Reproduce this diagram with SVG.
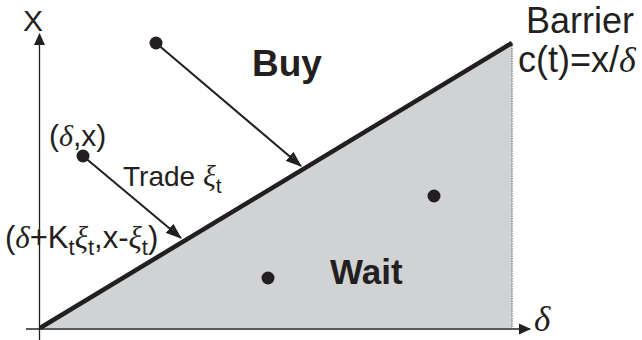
<svg xmlns="http://www.w3.org/2000/svg" width="642" height="340" viewBox="0 0 642 340">
<style>
text{font-family:"Liberation Sans",Arial,sans-serif;fill:#231f20}
.g{font-family:"Liberation Serif","Times New Roman",serif;font-style:italic}
.b{font-weight:bold}
.arr{stroke:#231f20;stroke-width:2;fill:none}
</style>
<defs>
<marker id="ah" markerUnits="userSpaceOnUse" markerWidth="16" markerHeight="12" refX="15" refY="6" orient="auto">
<path d="M0,0 L16,6 L0,12 Z" fill="#231f20"/>
</marker>
<marker id="axh" markerUnits="userSpaceOnUse" markerWidth="12" markerHeight="12" refX="11" refY="6" orient="auto">
<path d="M0,0.5 L12,6 L0,11.5 Z" fill="#231f20"/>
</marker>
</defs>
<g id="region">
<polygon points="40,328 512,43 512,328" fill="#d1d2d4"/>
<line x1="512" y1="43" x2="512" y2="328" stroke="#888" stroke-width="1.5" stroke-dasharray="1.5,1"/>
</g>
<g id="axes">
<line x1="26" y1="329" x2="530" y2="329" stroke="#58595b" stroke-width="2.2" marker-end="url(#axh)"/>
<line x1="39.5" y1="340" x2="39.5" y2="34" stroke="#231f20" stroke-width="1.3" marker-end="url(#axh)"/>
</g>
<g id="barrier">
<line x1="40" y1="328" x2="512" y2="43" stroke="#231f20" stroke-width="4.5"/>
</g>
<g id="connectors">
<line class="arr" x1="156" y1="43" x2="301" y2="166" marker-end="url(#ah)"/>
<line class="arr" x1="83" y1="156" x2="181" y2="238" marker-end="url(#ah)"/>
</g>
<g id="p1"><circle cx="156" cy="43" r="6.5" fill="#231f20"/></g>
<g id="p2"><circle cx="83" cy="156" r="6.5" fill="#231f20"/></g>
<g id="p3"><circle cx="434" cy="196" r="6.5" fill="#231f20"/></g>
<g id="p4"><circle cx="268" cy="278" r="6.5" fill="#231f20"/></g>
<g id="labels">
<text x="23" y="31" font-size="30">X</text>
<text x="252" y="76" font-size="37" class="b">Buy</text>
<text x="330" y="284" font-size="35" class="b">Wait</text>
<text x="526" y="33" font-size="36">Barrier</text>
<text x="518" y="72" font-size="36">c(t)=x/<tspan class="g">δ</tspan></text>
<text x="49" y="146" font-size="30">(<tspan class="g">δ</tspan>,x)</text>
<text x="123" y="186" font-size="28">Trade <tspan class="g" font-size="30">ξ</tspan><tspan font-size="21" dy="7">t</tspan></text>
<text x="5" y="248" font-size="31">(<tspan class="g">δ</tspan>+K<tspan font-size="22" dy="7">t</tspan><tspan class="g" dy="-7">ξ</tspan><tspan font-size="22" dy="7">t</tspan><tspan dy="-7">,x-</tspan><tspan class="g">ξ</tspan><tspan font-size="22" dy="7">t</tspan><tspan dy="-7">)</tspan></text>
<text x="534" y="331" font-size="35" class="g">δ</text>
</g>
</svg>
